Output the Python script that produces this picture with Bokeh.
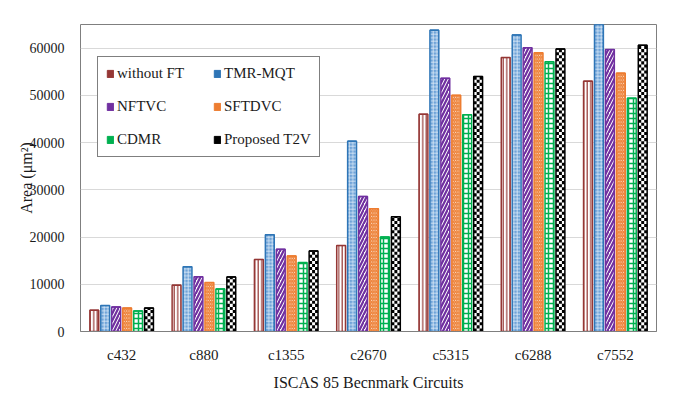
import numpy as np
from bokeh.plotting import figure
from bokeh.models import (ColumnDataSource, Legend, LegendItem, Range1d,
                          FixedTicker, NumeralTickFormatter)
from bokeh.transform import dodge
from bokeh.embed import file_html
from bokeh.resources import INLINE

circuits = ["c432", "c880", "c1355", "c2670", "c5315", "c6288", "c7552"]
without_ft = [4500, 9800, 15250, 18200, 46000, 58000, 53000]
tmr_mqt = [5500, 13700, 20500, 40300, 63800, 62800, 67000]
nftvc = [5200, 11600, 17400, 28600, 53600, 60100, 59700]
sftdvc = [4950, 10350, 16000, 26000, 50000, 59000, 54700]
cdmr = [4350, 9000, 14600, 20000, 45900, 57100, 49400]
t2v = [4950, 11550, 17050, 24300, 54000, 59800, 60600]
y_ticks = [0, 10000, 20000, 30000, 40000, 50000, 60000]

source = ColumnDataSource(dict(circuits=circuits, without_ft=without_ft, tmr_mqt=tmr_mqt,
                               nftvc=nftvc, sftdvc=sftdvc, cdmr=cdmr, t2v=t2v))

FONT = "Times New Roman"

p = figure(x_range=circuits, y_range=Range1d(0, 65000), width=673, height=393,
           output_backend="svg", toolbar_location=None,
           min_border_left=80, min_border_right=17, min_border_top=24, min_border_bottom=60)
p.outline_line_color = "#7f7f7f"
p.xgrid.grid_line_color = None
p.ygrid.grid_line_color = "#D9D9D9"
p.yaxis.ticker = FixedTicker(ticks=y_ticks)
p.yaxis.formatter = NumeralTickFormatter(format="0")
p.yaxis.axis_line_color = None
p.yaxis.major_tick_line_color = None
p.yaxis.minor_tick_line_color = None
p.xaxis.major_tick_line_color = None
p.xaxis.axis_line_color = "#7f7f7f"
for ax in (p.xaxis[0], p.yaxis[0]):
    ax.major_label_text_font = FONT
    ax.major_label_text_font_size = "14px"
    ax.major_label_text_color = "#1a1a1a"
    ax.axis_label_text_font = FONT
    ax.axis_label_text_color = "#1a1a1a"
    ax.axis_label_text_font_style = "normal"
p.xaxis.major_label_text_font_size = "15px"
p.yaxis.major_label_standoff = 10
p.xaxis.major_label_standoff = 9
p.xaxis.axis_label = "ISCAS 85 Becnmark Circuits"
p.xaxis.axis_label_text_font_size = "16px"
p.xaxis.axis_label_standoff = 8
p.yaxis.axis_label = "Area (\u03bcm\u00b2)"
p.yaxis.axis_label_text_font_size = "16px"
p.yaxis.axis_label_standoff = -8

series = [
    ("without_ft", "without FT", "#953735", dict(fill_color="white", hatch_pattern="vertical_line",
                                                 hatch_color="#953735", hatch_scale=3.5, hatch_weight=1.2)),
    ("tmr_mqt", "TMR-MQT", "#2E75B6", dict(fill_color="#6FA3D8", hatch_pattern="cross",
                                           hatch_color="#DDEBF7", hatch_scale=3.5, hatch_weight=0.8)),
    ("nftvc", "NFTVC", "#7030A0", dict(fill_color="white", hatch_pattern="right_diagonal_line",
                                       hatch_color="#7030A0", hatch_scale=7, hatch_weight=2.2)),
    ("sftdvc", "SFTDVC", "#ED7D31", dict(fill_color="white", hatch_pattern="left_diagonal_line",
                                         hatch_color="#ED7D31", hatch_scale=3.5, hatch_weight=1.4)),
    ("cdmr", "CDMR", "#00B050", dict(fill_color="white", hatch_pattern="cross",
                                     hatch_color="#00B050", hatch_scale=5, hatch_weight=1.5)),
    ("t2v", "Proposed T2V", "black", dict(fill_color="white")),
]

step = 0.133
bar_w = 0.108
legend_items = []
for i, (col, label, color, style) in enumerate(series):
    off = (i - 2.5) * step
    xs_dodge = dodge("circuits", off, range=p.x_range)
    if col == "t2v":
        p.vbar(x=xs_dodge, top=col, width=bar_w, source=source, line_color=None, **style)
        # checkerboard cells derived from the T2V values
        ncol = 3
        cell_w = bar_w / ncol
        cell_h = 650
        for c in range(ncol):
            xs, ys, hs = [], [], []
            for cat, val in zip(circuits, t2v):
                nrows = int(np.ceil(val / cell_h))
                for r in range(nrows):
                    if (r + c) % 2 == 0:
                        y0 = r * cell_h
                        y1 = min(val, y0 + cell_h)
                        xs.append(cat)
                        ys.append((y0 + y1) / 2)
                        hs.append(y1 - y0)
            csrc = ColumnDataSource(dict(x=xs, y=ys, h=hs))
            p.rect(x=dodge("x", off + (c - 1) * cell_w, range=p.x_range), y="y", width=cell_w,
                   height="h", source=csrc, fill_color="black", line_color=None)
        p.vbar(x=xs_dodge, top=col, width=bar_w, source=source, fill_color=None,
               line_color=color, line_width=1.5)
    else:
        p.vbar(x=xs_dodge, top=col, width=bar_w, source=source, line_color=color,
               line_width=1.5, **style)
    # legend swatch renderer: zero-height bar lying on each bar's top edge (same colour)
    swatch = p.vbar(x=xs_dodge, top=col, bottom=col, width=bar_w, source=source,
                    fill_color=color, line_color=color, line_width=1)
    legend_items.append(LegendItem(label=label, renderers=[swatch]))

legend = Legend(items=legend_items, location=(17, 174), orientation="horizontal", ncols=2,
                label_text_font=FONT, label_text_font_size="15px", label_text_color="#1a1a1a",
                glyph_width=8, glyph_height=9, label_standoff=3, label_width=80, label_height=16,
                spacing=16, padding=8, border_line_color="black", border_line_width=1,
                background_fill_color="white", background_fill_alpha=1)
p.add_layout(legend)

open("out.html", "w").write(file_html(p, INLINE))
